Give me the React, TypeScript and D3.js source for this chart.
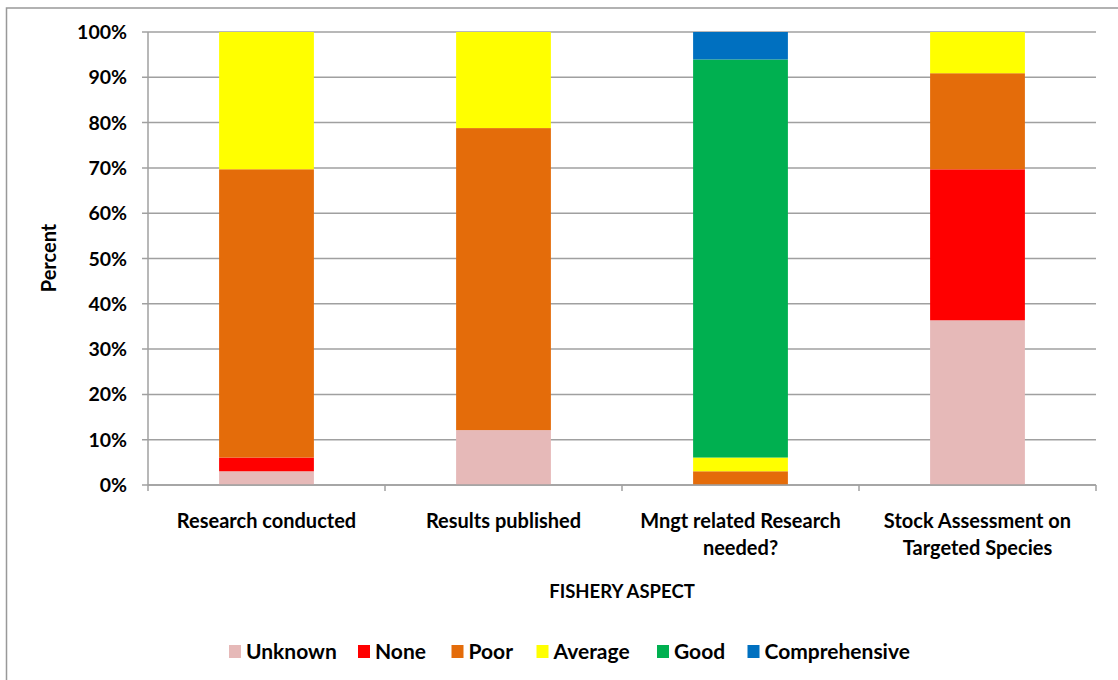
import React from "react";
import * as d3 from "d3";

const categories: string[][] = [
  ["Research conducted"],
  ["Results published"],
  ["Mngt related Research", "needed?"],
  ["Stock Assessment on", "Targeted Species"],
];
const seriesNames = ["Unknown", "None", "Poor", "Average", "Good", "Comprehensive"];
const seriesColors = ["#E6B9B8", "#FF0000", "#E46C0A", "#FFFF00", "#00B050", "#0070C0"];
// percent shares per category (responses out of 33)
const unknownVals = [3.03, 12.12, 0, 36.36];
const noneVals = [3.03, 0, 0, 33.33];
const poorVals = [63.64, 66.67, 3.03, 21.21];
const averageVals = [30.3, 21.21, 3.03, 9.09];
const goodVals = [0, 0, 87.88, 0];
const comprehensiveVals = [0, 0, 6.06, 0];
const yTicks = [0, 10, 20, 30, 40, 50, 60, 70, 80, 90, 100];

const FONT = "Lato, 'Open Sans', sans-serif";

export default function App() {
  const W = 1118, H = 680;
  const left = 148, right = 1096, top = 32, bottom = 485;
  const series = [unknownVals, noneVals, poorVals, averageVals, goodVals, comprehensiveVals];
  const x = d3.scaleBand<number>().domain(d3.range(categories.length)).range([left, right]).paddingInner(0.6).paddingOuter(0.3);
  const xb = d3.scaleBand<number>().domain(d3.range(categories.length)).range([left, right]);
  const y = d3.scaleLinear().domain([0, 100]).range([bottom, top]);
  const rows = categories.map((_, i) => {
    const o: Record<string, number> = {};
    seriesNames.forEach((s, k) => (o[s] = series[k][i]));
    return o;
  });
  const stacked = d3.stack<Record<string, number>>().keys(seriesNames)(rows);
  const legendX = [229, 358, 451.5, 536.5, 657, 747.5];
  const grid = "#A0A0A0";
  return (
    <svg width={W} height={H} style={{ position: "absolute", left: 0, top: 0, background: "#fff" }} fontFamily={FONT}>
      <rect x={6.5} y={8} width={1200} height={800} fill="#fff" stroke="#999" strokeWidth={1.5} />
      {yTicks.map((t) => (
        <g key={t}>
          <line x1={left - 6} x2={right} y1={y(t)} y2={y(t)} stroke={grid} strokeWidth={1.5} />
          <text x={127} y={y(t)} dy="0.36em" textAnchor="end" fontSize={19.5} fontWeight={700} fill="#000">
            {t}%
          </text>
        </g>
      ))}
      {stacked.map((layer, k) => (
        <g key={layer.key} fill={seriesColors[k]}>
          {layer.map((d, i) =>
            d[1] - d[0] > 0 ? (
              <rect key={i} x={x(i)} width={x.bandwidth()} y={y(d[1])} height={y(d[0]) - y(d[1])} />
            ) : null
          )}
        </g>
      ))}
      <line x1={left} x2={left} y1={top} y2={bottom} stroke={grid} strokeWidth={1.5} />
      <line x1={left} x2={right} y1={bottom} y2={bottom} stroke={grid} strokeWidth={1.5} />
      {d3.range(categories.length + 1).map((i) => {
        const xx = i < categories.length ? xb(i)! : right;
        return <line key={i} x1={xx} x2={xx} y1={bottom} y2={bottom + 6} stroke={grid} strokeWidth={1.5} />;
      })}
      {categories.map((lines, i) => (
        <text key={i} x={xb(i)! + xb.bandwidth() / 2} y={528} textAnchor="middle" fontSize={20} fontWeight={700} fill="#000">
          {lines.map((l, j) => (
            <tspan key={j} x={xb(i)! + xb.bandwidth() / 2} dy={j === 0 ? 0 : 27}>
              {l}
            </tspan>
          ))}
        </text>
      ))}
      <text x={622} y={598} textAnchor="middle" fontSize={18.5} fontWeight={700} fill="#000">
        FISHERY ASPECT
      </text>
      <text transform={`translate(56,258) rotate(-90)`} textAnchor="middle" fontSize={20} fontWeight={700} fill="#000">
        Percent
      </text>
      {seriesNames.map((s, k) => (
        <g key={s}>
          <rect x={legendX[k]} y={645} width={12} height={13} fill={seriesColors[k]} />
          <text x={legendX[k] + 17} y={659} fontSize={21} fontWeight={700} fill="#000">
            {s}
          </text>
        </g>
      ))}
    </svg>
  );
}
